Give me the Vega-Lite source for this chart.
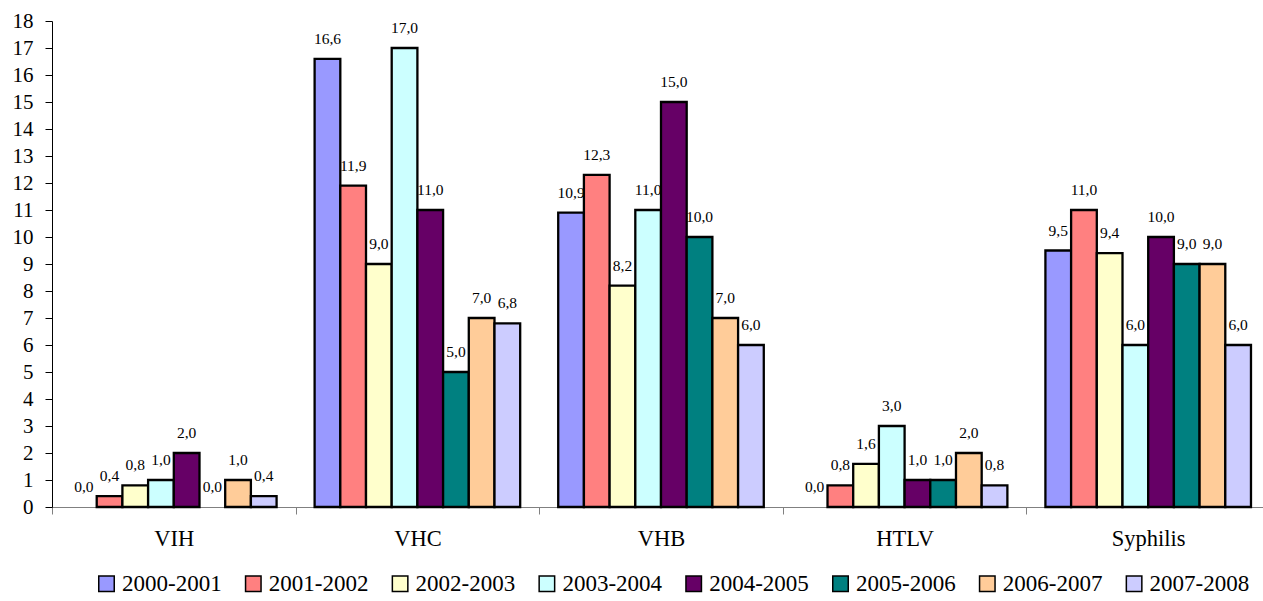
{
  "$schema": "https://vega.github.io/schema/vega-lite/v6.json",
  "width": 1218,
  "height": 486,
  "autosize": {"type": "none"},
  "padding": {"left": 52, "top": 21, "right": 0, "bottom": 94},
  "background": "white",
  "config": {
    "locale": {"number": {"decimal": ",", "thousands": " ", "grouping": [3], "currency": ["", " €"]}},
    "font": "Liberation Serif",
    "view": {"stroke": null},
    "axis": {"grid": false}
  },
  "data": {
    "values": [
      {"test": "VIH", "period": "2000-2001", "rate": 0.0},
      {"test": "VIH", "period": "2001-2002", "rate": 0.4},
      {"test": "VIH", "period": "2002-2003", "rate": 0.8},
      {"test": "VIH", "period": "2003-2004", "rate": 1.0},
      {"test": "VIH", "period": "2004-2005", "rate": 2.0},
      {"test": "VIH", "period": "2005-2006", "rate": 0.0},
      {"test": "VIH", "period": "2006-2007", "rate": 1.0},
      {"test": "VIH", "period": "2007-2008", "rate": 0.4},
      {"test": "VHC", "period": "2000-2001", "rate": 16.6},
      {"test": "VHC", "period": "2001-2002", "rate": 11.9},
      {"test": "VHC", "period": "2002-2003", "rate": 9.0},
      {"test": "VHC", "period": "2003-2004", "rate": 17.0},
      {"test": "VHC", "period": "2004-2005", "rate": 11.0},
      {"test": "VHC", "period": "2005-2006", "rate": 5.0},
      {"test": "VHC", "period": "2006-2007", "rate": 7.0},
      {"test": "VHC", "period": "2007-2008", "rate": 6.8},
      {"test": "VHB", "period": "2000-2001", "rate": 10.9},
      {"test": "VHB", "period": "2001-2002", "rate": 12.3},
      {"test": "VHB", "period": "2002-2003", "rate": 8.2},
      {"test": "VHB", "period": "2003-2004", "rate": 11.0},
      {"test": "VHB", "period": "2004-2005", "rate": 15.0},
      {"test": "VHB", "period": "2005-2006", "rate": 10.0},
      {"test": "VHB", "period": "2006-2007", "rate": 7.0},
      {"test": "VHB", "period": "2007-2008", "rate": 6.0},
      {"test": "HTLV", "period": "2000-2001", "rate": 0.0},
      {"test": "HTLV", "period": "2001-2002", "rate": 0.8},
      {"test": "HTLV", "period": "2002-2003", "rate": 1.6},
      {"test": "HTLV", "period": "2003-2004", "rate": 3.0},
      {"test": "HTLV", "period": "2004-2005", "rate": 1.0},
      {"test": "HTLV", "period": "2005-2006", "rate": 1.0},
      {"test": "HTLV", "period": "2006-2007", "rate": 2.0},
      {"test": "HTLV", "period": "2007-2008", "rate": 0.8},
      {"test": "Syphilis", "period": "2000-2001", "rate": 9.5},
      {"test": "Syphilis", "period": "2001-2002", "rate": 11.0},
      {"test": "Syphilis", "period": "2002-2003", "rate": 9.4},
      {"test": "Syphilis", "period": "2003-2004", "rate": 6.0},
      {"test": "Syphilis", "period": "2004-2005", "rate": 10.0},
      {"test": "Syphilis", "period": "2005-2006", "rate": 9.0},
      {"test": "Syphilis", "period": "2006-2007", "rate": 9.0},
      {"test": "Syphilis", "period": "2007-2008", "rate": 6.0}
    ]
  },
  "encoding": {
    "x": {
      "field": "test",
      "type": "nominal",
      "sort": ["VIH", "VHC", "VHB", "HTLV", "Syphilis"],
      "scale": {"paddingInner": 0, "paddingOuter": 0},
      "axis": {
        "title": null,
        "labelAngle": 0,
        "labelFontSize": 22.5,
        "labelColor": "black",
        "domainColor": "#808080",
        "tickColor": "#808080",
        "tickSize": 7,
        "tickBand": "extent",
        "labelPadding": 13
      }
    },
    "xOffset": {
      "field": "period",
      "type": "nominal",
      "scale": {"paddingInner": 0, "paddingOuter": 0.74}
    },
    "y": {
      "field": "rate",
      "type": "quantitative",
      "scale": {"domain": [0, 18], "nice": false},
      "axis": {
        "title": null,
        "values": [0, 1, 2, 3, 4, 5, 6, 7, 8, 9, 10, 11, 12, 13, 14, 15, 16, 17, 18],
        "labelFontSize": 21,
        "labelColor": "black",
        "domainColor": "black",
        "tickColor": "black",
        "tickSize": 7,
        "labelPadding": 12
      }
    }
  },
  "layer": [
    {
      "mark": {"type": "bar", "stroke": "black", "strokeWidth": 2.3},
      "encoding": {
        "color": {
          "field": "period",
          "type": "nominal",
          "scale": {
            "domain": ["2000-2001", "2001-2002", "2002-2003", "2003-2004", "2004-2005", "2005-2006", "2006-2007", "2007-2008"],
            "range": ["#9999FF", "#FF8080", "#FFFFCC", "#CCFFFF", "#660066", "#008080", "#FFCC99", "#CCCCFF"]
          },
          "legend": {
            "orient": "none",
            "legendX": 43,
            "legendY": 551,
            "direction": "horizontal",
            "columns": 8,
            "title": null,
            "symbolType": "square",
            "symbolSize": 240,
            "symbolStrokeColor": "black",
            "symbolStrokeWidth": 1.5,
            "symbolOpacity": 1,
            "labelFontSize": 23,
            "labelFont": "Liberation Serif",
            "labelColor": "black",
            "labelOffset": 4,
            "labelLimit": 0,
            "columnPadding": 19.8
          }
        },
        "strokeOpacity": {"condition": {"test": "datum.rate == 0", "value": 0}, "value": 1}
      }
    },
    {
      "mark": {"type": "text", "baseline": "alphabetic", "dy": -15, "fontSize": 15.5, "color": "black"},
      "encoding": {
        "text": {"field": "rate", "type": "quantitative", "format": ".1f"}
      }
    }
  ]
}
